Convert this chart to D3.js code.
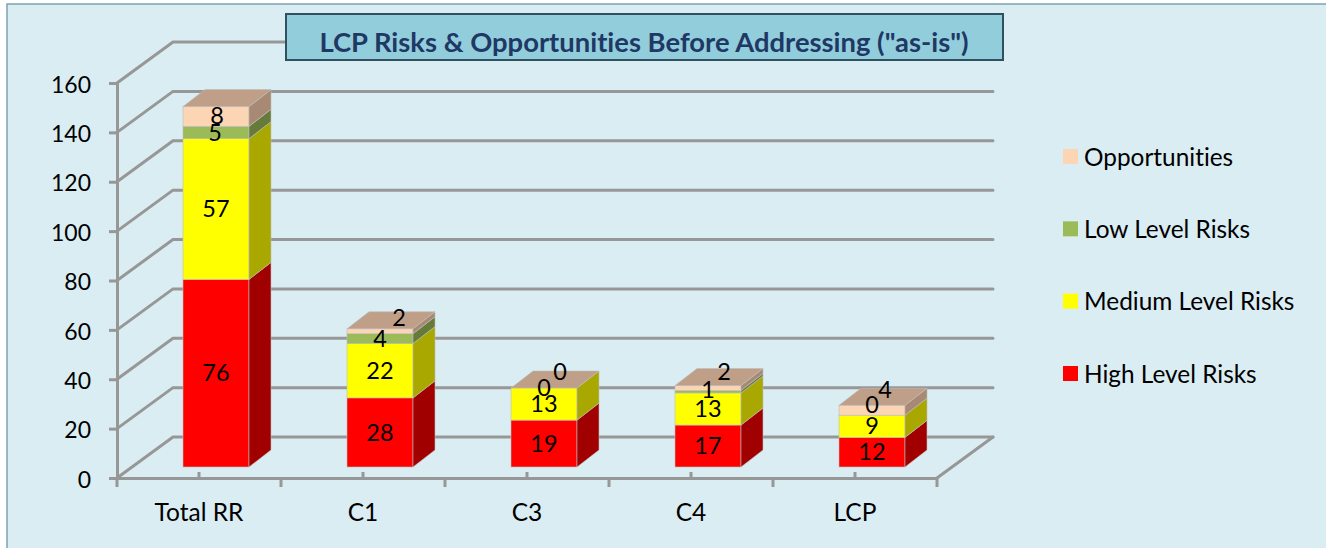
<!DOCTYPE html>
<html>
<head>
<meta charset="utf-8">
<title>LCP Risks & Opportunities</title>
<script src="https://cdn.jsdelivr.net/npm/d3@7"></script>
<style>
  html, body { margin: 0; padding: 0; background: #fff; overflow: hidden; }
  svg { display: block; }
  text { font-family: Lato, "Open Sans", sans-serif; fill: #000; font-variant-ligatures: none; }
</style>
</head>
<body>
<script>
// Chart values
var categories = ["Total RR", "C1", "C3", "C4", "LCP"];
var highRisks = [76, 28, 19, 17, 12];
var mediumRisks = [57, 22, 13, 13, 9];
var lowRisks = [5, 4, 0, 1, 0];
var opportunities = [8, 2, 0, 2, 4];
var yTicks = [0, 20, 40, 60, 80, 100, 120, 140, 160];
var seriesNames = ["High Level Risks", "Medium Level Risks", "Low Level Risks", "Opportunities"];
var chartTitle = 'LCP Risks & Opportunities Before Addressing ("as-is")';

var svgWidth = 1326;
var svgHeight = 548;

// Fake 3D: how far the back wall and the bars are pushed into the picture
var wall = { dx: 56, dy: 41 };
var barFront = { dx: 15, dy: 11 };
var barDepth = { dx: 22, dy: 17 };

var colors = ["#ff0000", "#ffff00", "#9bbb59", "#fcd5b5"];
var sideColors = ["#a00000", "#a8a800", "#667a3a", "#a88a74"];
var topColor = "#bf9f87";
var gridColor = "#979797";

var svg = d3.select("body").append("svg")
  .attr("width", svgWidth)
  .attr("height", svgHeight);

// Panel background
svg.append("rect")
  .attr("x", 7).attr("y", 4)
  .attr("width", svgWidth).attr("height", svgHeight)
  .attr("fill", "#daedf3")
  .attr("stroke", "#7ca3b2")
  .attr("stroke-width", 1.5);

// Scales
var yScale = d3.scaleLinear().domain([0, 160]).range([478, 83]);
var xScale = d3.scaleBand().domain(categories).range([117, 937]);
var barLeft = d => xScale(d) + 51 + barFront.dx;
var barWidth = 66;
var barY = v => yScale(v) - barFront.dy;

// Walls: left diagonal plus back line for each tick
var wallGroup = svg.append("g")
  .attr("fill", "none")
  .attr("stroke", gridColor)
  .attr("stroke-width", 3)
  .attr("stroke-linecap", "round");

wallGroup.selectAll("path")
  .data(yTicks)
  .join("path")
  .attr("d", d => `M${xScale.range()[0]},${yScale(d)}L${xScale.range()[0] + wall.dx},${yScale(d) - wall.dy}L${xScale.range()[1] + wall.dx},${yScale(d) - wall.dy}`);

// Right edge of the floor
wallGroup.append("path")
  .attr("d", `M${xScale.range()[1]},${yScale(0)}L${xScale.range()[1] + wall.dx},${yScale(0) - wall.dy}`);

// Axes
var leftAxis = d3.axisLeft(yScale).tickValues(yTicks).tickSize(8).tickPadding(18);
var yAxis = svg.append("g")
  .attr("transform", "translate(117,0)")
  .call(leftAxis);

var bottomAxis = d3.axisBottom(xScale).tickSize(-6).tickSizeOuter(0).tickPadding(0);
var xAxis = svg.append("g")
  .attr("transform", "translate(0,478)")
  .call(bottomAxis);

// The long ticks sit on the category boundaries
var edges = categories.map(d => xScale(d)).concat(xScale.range()[1]);
xAxis.selectAll(".edge")
  .data(edges)
  .join("line")
  .attr("class", "edge")
  .attr("x1", d => d).attr("x2", d => d)
  .attr("y1", 0).attr("y2", 9);

svg.selectAll(".domain, .tick line, .edge")
  .attr("stroke", gridColor)
  .attr("stroke-width", 3);

yAxis.selectAll("text")
  .attr("dy", "0.4em")
  .style("font-size", "23px");
xAxis.selectAll("text")
  .attr("y", 35)
  .attr("dy", "0.32em")
  .style("font-size", "24.5px");

// Stacked bars
var stackValues = [highRisks, mediumRisks, lowRisks, opportunities];
var stackRows = categories.map((c, i) => {
  var row = { category: c };
  seriesNames.forEach((s, j) => { row[s] = stackValues[j][i]; });
  return row;
});
var stacked = d3.stack().keys(seriesNames)(stackRows);

var barGroup = svg.append("g")
  .attr("stroke", "#bdbdbd")
  .attr("stroke-width", 0.6);

stacked.forEach((layer, s) => {
  layer.forEach(d => {
    if (d[1] === d[0]) return;
    var x0 = barLeft(d.data.category);
    var x1 = x0 + barWidth;
    var yLow = barY(d[0]);
    var yHigh = barY(d[1]);
    barGroup.append("rect")
      .attr("x", x0).attr("y", yHigh)
      .attr("width", barWidth).attr("height", yLow - yHigh)
      .attr("fill", colors[s]);
    barGroup.append("path")
      .attr("d", `M${x1},${yLow}L${x1 + barDepth.dx},${yLow - barDepth.dy}L${x1 + barDepth.dx},${yHigh - barDepth.dy}L${x1},${yHigh}Z`)
      .attr("fill", sideColors[s]);
  });
});

// Top faces
stacked[stacked.length - 1].forEach(d => {
  var x0 = barLeft(d.data.category);
  var yTop = barY(d[1]);
  barGroup.append("path")
    .attr("d", `M${x0},${yTop}L${x0 + barDepth.dx},${yTop - barDepth.dy}L${x0 + barWidth + barDepth.dx},${yTop - barDepth.dy}L${x0 + barWidth},${yTop}Z`)
    .attr("fill", topColor);
});

// Data labels. Most are centred on their segment, these few were moved in the original
var labelShift = {
  "Opportunities": { "Total RR": [1, -1], "C1": [19, -13], "C3": [16, -16], "C4": [16, -16], "LCP": [13, -20] },
  "Low Level Risks": { "Total RR": [-1, 0], "LCP": [0, -10], "C4": [0, -2] }
};

stacked.forEach(layer => {
  layer.forEach(d => {
    var shift = (labelShift[layer.key] || {})[d.data.category] || [0, 0];
    svg.append("text")
      .attr("x", barLeft(d.data.category) + barWidth / 2 + shift[0])
      .attr("y", (barY(d[0]) + barY(d[1])) / 2 + shift[1])
      .attr("dy", "0.35em")
      .attr("text-anchor", "middle")
      .style("font-size", "23.5px")
      .text(d[1] - d[0]);
  });
});

// Legend
var legendY = d3.scalePoint()
  .domain(seriesNames.slice().reverse())
  .range([157, 374]);

var legend = svg.selectAll(".legend")
  .data(seriesNames)
  .join("g")
  .attr("class", "legend")
  .attr("transform", d => `translate(1063,${legendY(d)})`);

legend.append("rect")
  .attr("y", -8)
  .attr("width", 15).attr("height", 15)
  .attr("fill", (d, i) => colors[i]);

legend.append("text")
  .attr("x", 21)
  .attr("dy", "0.35em")
  .style("font-size", "24.4px")
  .text(d => d);

// Title box
svg.append("rect")
  .attr("x", 286).attr("y", 14)
  .attr("width", 717).attr("height", 46)
  .attr("fill", "#92cddc")
  .attr("stroke", "#31505f")
  .attr("stroke-width", 2);

svg.append("text")
  .attr("x", 644).attr("y", 42)
  .attr("dy", "0.35em")
  .attr("text-anchor", "middle")
  .style("font-size", "27.4px")
  .style("font-weight", "bold")
  .style("fill", "#1f3864")
  .text(chartTitle);
</script>
</body>
</html>
